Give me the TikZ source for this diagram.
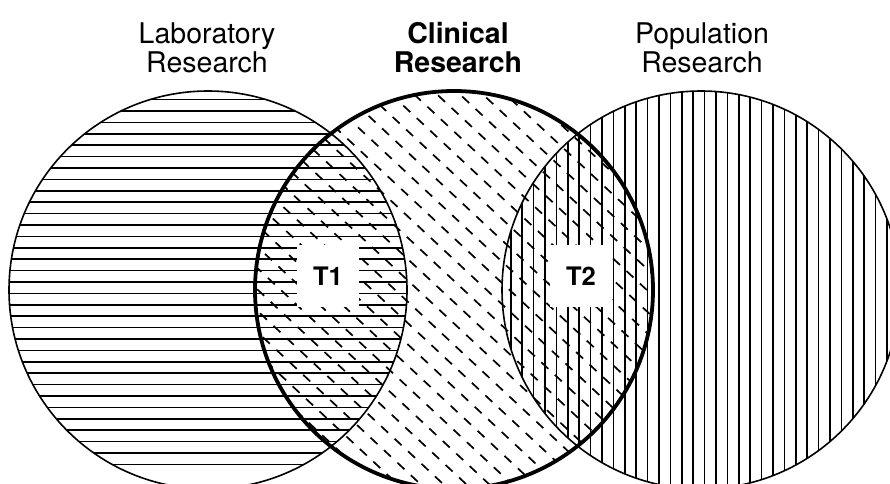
\documentclass[tikz,border=0pt]{standalone}
\usepackage{fontspec}
\setmainfont{TeX Gyre Heros}

\tikzset{
  ring/.style={line width=1.6pt},
  bigring/.style={line width=3.8pt},
  hatch/.style={line width=1.5pt},
  dashhatch/.style={line width=1.7pt,dash pattern=on 9.5pt off 8.9pt},
  heading/.style={align=center,font=\fontsize{28.5}{29}\selectfont},
  tbox/.style={fill=white,inner sep=0pt,minimum width=62pt,minimum height=62pt,font=\bfseries\fontsize{25.5}{26}\selectfont}
}

\begin{document}
\begin{tikzpicture}[x=1pt,y=1pt,line cap=butt,line join=round]
\useasboundingbox (0,0) rectangle (890,483);
\clip (0,0) rectangle (890,483);
\coordinate (labc) at (208,193);
\coordinate (clinc) at (454,193);
\coordinate (popc) at (701,193);

% laboratory: horizontal lines
\begin{scope}
\clip (labc) circle (199);
\foreach \k in {-20,...,20}
  \draw[hatch] (0,246.6+11.4*\k) -- (420,246.6+11.4*\k);
\end{scope}

% population: vertical lines
\begin{scope}
\clip (popc) circle (199);
\foreach \k in {-5,...,35}
  \draw[hatch] (545+11.4*\k,-10) -- (545+11.4*\k,490);
\end{scope}

% clinical: dashes
\begin{scope}
\clip (clinc) circle (199);
\begin{scope}[shift={(clinc)},rotate=-43]
\foreach \k in {-15,...,15}
  \draw[dashhatch] (-254.8,6.7+15.6*\k) -- (260,6.7+15.6*\k);
\end{scope}
\end{scope}

\draw[ring] (labc) circle (199);
\draw[ring] (popc) circle (199);
\draw[bigring] (clinc) circle (199);

\node[tbox] (t1) at (328,207) {T1};
\node[tbox] (t2) at (581,207) {T2};

\node[heading] (lab) at (207,435.5) {Laboratory\\Research};
\node[heading] (clin) at (458,435.5) {\bfseries Clinical\\\bfseries Research};
\node[heading] (pop) at (702,435.5) {Population\\Research};
\end{tikzpicture}
\end{document}
